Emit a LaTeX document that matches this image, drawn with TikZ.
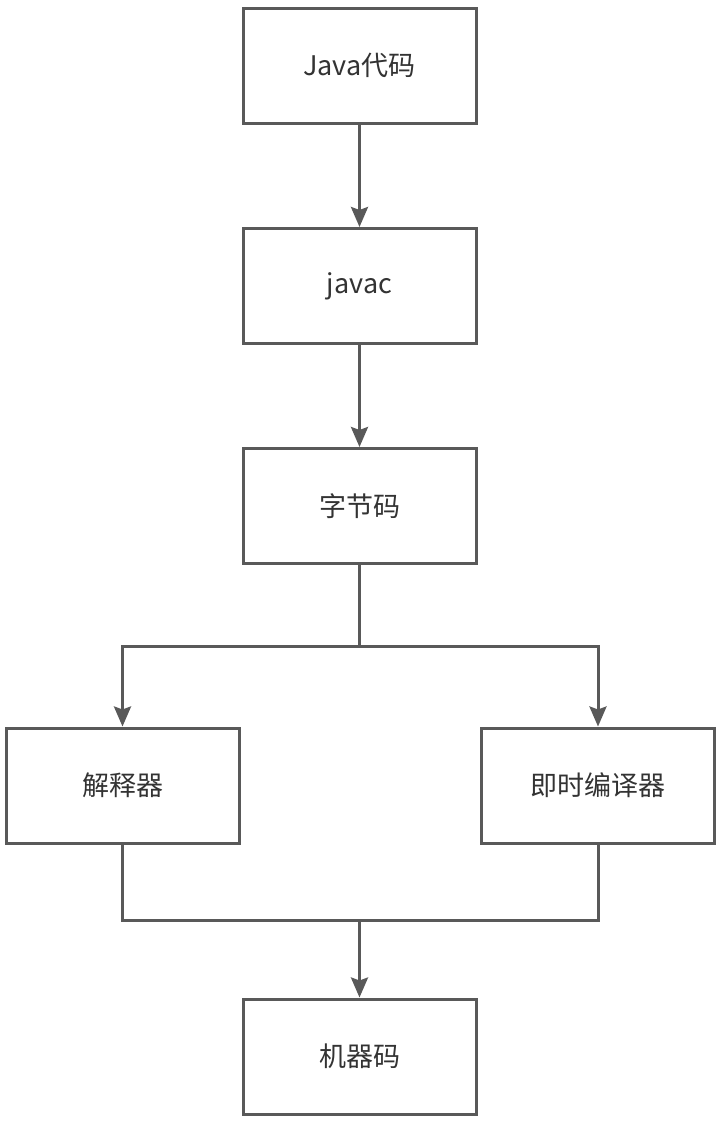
\documentclass[tikz,border=0pt]{standalone}
\usepackage{fontspec}
\setmainfont{Noto Sans CJK SC}
\usetikzlibrary{arrows.meta}
\definecolor{lc}{HTML}{595959}
\definecolor{tc}{HTML}{333333}
\tikzset{
  box/.style={draw=lc, line width=3pt, fill=white, minimum width=233pt, minimum height=115pt,
    inner sep=0pt, font=\fontsize{27}{31}\selectfont, text=tc},
  conn/.style={draw=lc, line width=3pt},
  arr/.style={conn, -{Stealth[length=20pt,width=17pt,inset=3pt]}}
}
\begin{document}
\begin{tikzpicture}[x=1pt,y=-1pt]
\useasboundingbox (0,0) rectangle (724,1122);
\node[box] (java) at (359.5,65.5) {Java代码};
\node[box] (javac) at (359.5,286) {javac};
\node[box] (byte) at (359.5,506) {字节码};
\node[box] (interp) at (122.5,785.5) {解释器};
\node[box] (jit) at (598,785.5) {即时编译器};
\node[box] (mc) at (359.5,1056.5) {机器码};
\coordinate (split) at (359.5,646);
\coordinate (join) at (359.5,920);
\draw[arr] (java) -- (javac);
\draw[arr] (javac) -- (byte);
\draw[conn] (byte) -- (split);
\draw[arr] (split) -| (interp);
\draw[arr] (split) -| (jit);
\draw[conn] (interp) |- (join);
\draw[conn] (jit) |- (join);
\draw[arr] (join) -- (mc);
\end{tikzpicture}
\end{document}
